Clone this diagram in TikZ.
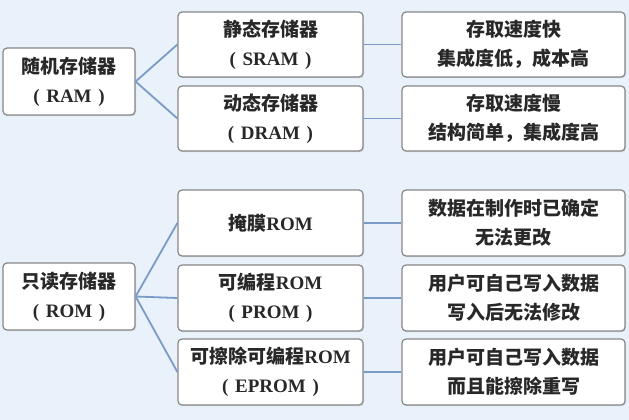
\documentclass[tikz,border=0pt]{standalone}
\usepackage{fontspec}
\setmainfont{Noto Sans CJK SC}
\newfontfamily\cjk{Noto Sans CJK SC}
\newfontfamily\lat{Liberation Serif}
\usetikzlibrary{shadows}
\definecolor{bg}{RGB}{233,241,250}
\definecolor{boxline}{RGB}{135,135,135}
\definecolor{conn}{RGB}{122,155,198}
\definecolor{txt}{RGB}{40,40,40}
\newcommand{\latin}[1]{{\lat\bfseries #1}}
\newcommand{\paren}[1]{{\lat\bfseries (\hspace{0.35em}#1\hspace{0.35em})}}
\begin{document}
\begin{tikzpicture}[x=1pt,y=-1pt,
  box/.style={draw=boxline, line width=1.2pt, fill=white, rounded corners=4pt,
    align=center, text=txt, font=\fontsize{19}{29}\selectfont\bfseries,
    inner sep=0pt, drop shadow={shadow xshift=1pt, shadow yshift=-1.2pt, opacity=0.25}},
  leftbox/.style={box, minimum width=132pt, minimum height=67pt},
  midbox/.style={box, minimum width=185pt, minimum height=65pt},
  rightbox/.style={box, minimum width=223pt, minimum height=65pt},
  link/.style={draw=conn, line width=1.8pt}]
\fill[bg] (0,0) rectangle (629,420);
\useasboundingbox (0,0) rectangle (629,420);

\node[leftbox] (ram) at (69,81.5) {随机存储器\\\paren{RAM}};
\node[midbox] (sram) at (270.5,44.5) {静态存储器\\\paren{SRAM}};
\node[midbox] (dram) at (270.5,118.5) {动态存储器\\\paren{DRAM}};
\node[rightbox] (r1) at (513.5,44.5) {存取速度快\\集成度低，成本高};
\node[rightbox] (r2) at (513.5,118.5) {存取速度慢\\结构简单，集成度高};

\node[leftbox] (rom) at (69,296.5) {只读存储器\\\paren{ROM}};
\node[midbox, minimum height=66pt] (mask) at (270.5,223) {掩膜\latin{ROM}};
\node[midbox, minimum height=66pt] (prom) at (270.5,298) {可编程\latin{ROM}\\\paren{PROM}};
\node[midbox, minimum height=66pt] (eprom) at (270.5,372) {可擦除可编程\latin{ROM}\\\paren{EPROM}};
\node[rightbox, minimum height=66pt] (r3) at (513.5,223) {数据在制作时已确定\\无法更改};
\node[rightbox, minimum height=66pt] (r4) at (513.5,298) {用户可自己写入数据\\写入后无法修改};
\node[rightbox, minimum height=66pt] (r5) at (513.5,372) {用户可自己写入数据\\而且能擦除重写};

\draw[link] (ram.east) -- (sram.west);
\draw[link] (ram.east) -- (dram.west);
\draw[link] (sram.east) -- (r1.west);
\draw[link] (dram.east) -- (r2.west);
\draw[link] (rom.east) -- (mask.west);
\draw[link] (rom.east) -- (prom.west);
\draw[link] (rom.east) -- (eprom.west);
\draw[link] (mask.east) -- (r3.west);
\draw[link] (prom.east) -- (r4.west);
\draw[link] (eprom.east) -- (r5.west);
\end{tikzpicture}
\end{document}
